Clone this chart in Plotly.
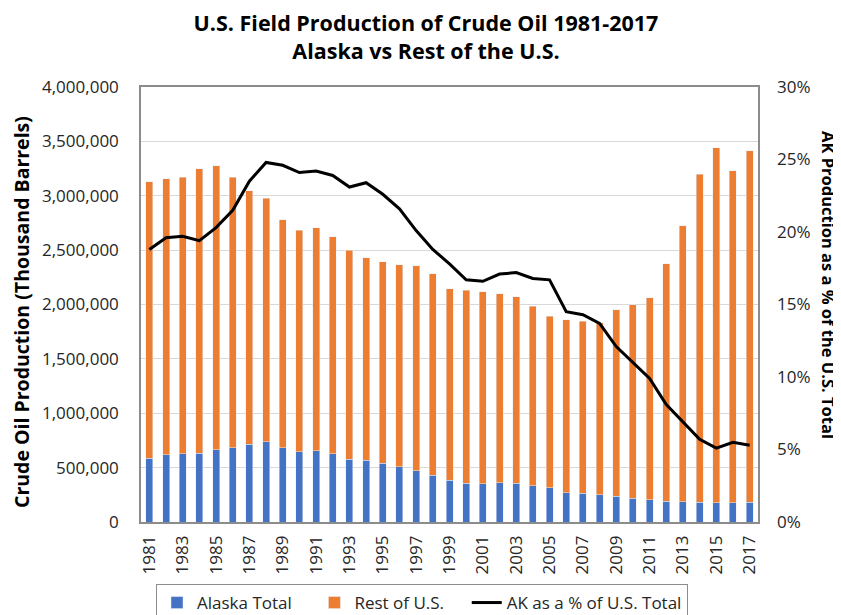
import plotly.graph_objects as go

years = list(range(1981, 2018))
alaska = [587000, 619000, 626000, 630000, 666000, 681000, 716000, 738000, 684000, 647000,
          656000, 627000, 577000, 569000, 542000, 510000, 473000, 429000, 383000, 355000,
          351000, 359000, 356000, 332000, 315000, 270000, 264000, 250000, 235000, 219000,
          205000, 192000, 187000, 181000, 177000, 178000, 181000]
rest = [2542000, 2538000, 2545000, 2620000, 2609000, 2487000, 2331000, 2241000, 2095000, 2038000,
        2051000, 1998000, 1922000, 1862000, 1852000, 1856000, 1882000, 1853000, 1764000, 1776000,
        1767000, 1738000, 1717000, 1651000, 1575000, 1592000, 1584000, 1581000, 1718000, 1780000,
        1857000, 2185000, 2537000, 3019000, 3265000, 3054000, 3232000]
ak_pct = [0.188, 0.196, 0.197, 0.194, 0.203, 0.215, 0.235, 0.248, 0.246, 0.241,
          0.242, 0.239, 0.231, 0.234, 0.226, 0.216, 0.201, 0.188, 0.178, 0.167,
          0.166, 0.171, 0.172, 0.168, 0.167, 0.145, 0.143, 0.137, 0.121, 0.110,
          0.099, 0.081, 0.069, 0.057, 0.051, 0.055, 0.053]
tick_years = list(range(1981, 2018, 2))

FONT = "Open Sans"
# page body has an 8px margin, so the figure is 8px smaller and margins shifted
W, H = 833, 607
L, T, R, B = 133, 79, 83, 93
PW, PH = W - L - R, H - T - B
PAD = "\u00a0" * 4

fig = go.Figure()
fig.add_trace(go.Bar(x=years, y=alaska, name="Alaska Total" + PAD, marker_color="#4472C4",
                     width=0.42))
fig.add_trace(go.Bar(x=years, y=rest, name="Rest of U.S." + PAD, marker_color="#ED7D31",
                     width=0.42))
fig.add_trace(go.Scatter(x=years, y=ak_pct, name="AK as a % of U.S. Total", yaxis="y2",
                         mode="lines", line=dict(color="black", width=3)))

fig.update_layout(
    width=W, height=H,
    barmode="stack",
    paper_bgcolor="white", plot_bgcolor="white",
    margin=dict(l=L, r=R, t=T, b=B, autoexpand=False),
    font=dict(family=FONT, size=17, color="#262626"),
    title=dict(text="<b>U.S. Field Production of Crude Oil 1981-2017</b><br><b>Alaska vs Rest of the U.S.</b>",
               x=418/W, xanchor="center", y=1-23/H, yanchor="middle", yref="container",
               font=dict(family=FONT, size=21.5, color="black")),
    xaxis=dict(range=[1980.5, 2017.5], tickvals=tick_years, ticktext=[str(y) for y in tick_years],
               tickangle=-90, showgrid=False, showline=True, linecolor="#8c8c8c", linewidth=1.5,
               mirror=True, ticks="", zeroline=False, ticklabelstandoff=5),
    yaxis=dict(range=[0, 4000000], dtick=500000, tickformat=",", showgrid=True,
               gridcolor="#d9d9d9", gridwidth=1, showline=True, linecolor="#8c8c8c",
               linewidth=1.5, mirror=True, zeroline=False, ticklabelstandoff=17),
    yaxis2=dict(range=[0, 0.3], dtick=0.05, tickformat=".0%", overlaying="y", side="right",
                showgrid=False, zeroline=False, showline=False, ticklabelstandoff=18),
    legend=dict(orientation="h", x=(414-L)/PW, xanchor="center", y=-62/PH, yanchor="top",
                bordercolor="#8c8c8c", borderwidth=1, font=dict(size=17, color="#262626"),
                traceorder="normal", bgcolor="white"),
    annotations=[
        dict(text="<b>Crude Oil Production (Thousand Barrels)</b>", xref="paper", yref="paper",
             x=(13-L)/PW, y=(T+PH-304)/PH, textangle=-90, showarrow=False,
             font=dict(family=FONT, size=19.5, color="black"), xanchor="center", yanchor="middle"),
        dict(text="<b>AK Production as a % of the U.S. Total</b>", xref="paper", yref="paper",
             x=(821-L)/PW, y=(T+PH-277)/PH, textangle=90, showarrow=False,
             font=dict(family=FONT, size=16.5, color="black"), xanchor="center", yanchor="middle"),
    ],
)

fig.write_html("out.html")
